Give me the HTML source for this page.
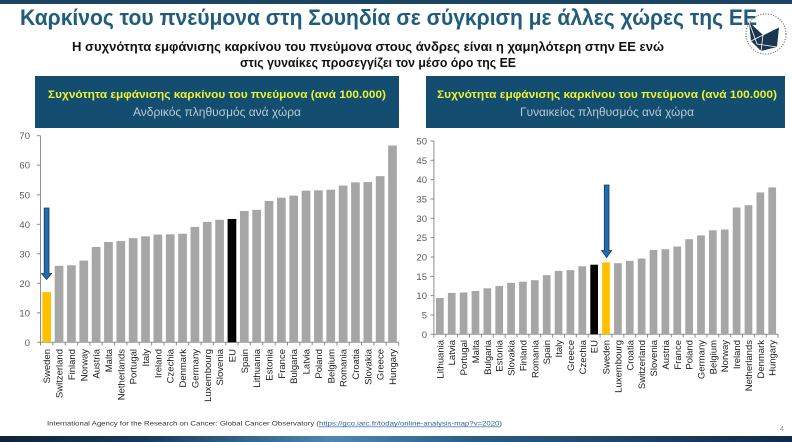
<!DOCTYPE html>
<html>
<head>
<meta charset="utf-8">
<style>
  html,body{margin:0;padding:0;background:#fff;}
  svg{display:block;}
  text{font-family:"Liberation Sans","DejaVu Sans",sans-serif;}
</style>
</head>
<body>
<svg width="792" height="442" viewBox="0 0 792 442" xmlns="http://www.w3.org/2000/svg">
  <defs>
    <linearGradient id="band" x1="0" x2="1" y1="0" y2="0">
      <stop offset="0" stop-color="#0f2338"/>
      <stop offset="0.18" stop-color="#163a5a"/>
      <stop offset="0.42" stop-color="#4d88b3"/>
      <stop offset="0.6" stop-color="#2a5c84"/>
      <stop offset="1" stop-color="#10294a"/>
    </linearGradient>
  </defs>

  <!-- top band -->
  <rect x="0" y="0" width="792" height="4" fill="#1c4563"/>

  <!-- title -->
  <text x="20" y="25" font-size="22" font-weight="bold" fill="#205c7c" textLength="737" lengthAdjust="spacingAndGlyphs">Καρκίνος του πνεύμονα στη Σουηδία σε σύγκριση με άλλες χώρες της ΕΕ</text>

  <!-- logo -->
  <circle cx="766" cy="34" r="20" fill="none" stroke="#555" stroke-width="1" stroke-dasharray="1 1.6"/>
  <polygon points="749,22 763,35 779,27 777,47 761,51 751,41" fill="#1c3550"/>
  <polyline points="749,22 757,44 777,47" fill="none" stroke="#fff" stroke-width="0.8"/>
  <polyline points="763,35 761,51" fill="none" stroke="#fff" stroke-width="0.8"/>
  <polyline points="751,41 763,35 779,27" fill="none" stroke="#fff" stroke-width="0.8"/>

  <!-- subtitle -->
  <text x="72" y="51" font-size="12.5" font-weight="bold" fill="#111" textLength="592" lengthAdjust="spacingAndGlyphs">Η συχνότητα εμφάνισης καρκίνου του πνεύμονα στους άνδρες είναι η χαμηλότερη στην ΕΕ ενώ</text>
  <text x="240" y="67" font-size="12.5" font-weight="bold" fill="#111" textLength="276" lengthAdjust="spacingAndGlyphs">στις γυναίκες προσεγγίζει τον μέσο όρο της ΕΕ</text>

  <!-- header boxes -->
  <rect x="35" y="76" width="364" height="52" fill="#134d70"/>
  <text x="48" y="98" font-size="11" font-weight="bold" fill="#e9f230" textLength="338" lengthAdjust="spacingAndGlyphs">Συχνότητα εμφάνισης καρκίνου του πνεύμονα (ανά 100.000)</text>
  <text x="217" y="116" font-size="12" fill="#b9cad6" text-anchor="middle" textLength="168" lengthAdjust="spacingAndGlyphs">Ανδρικός πληθυσμός ανά χώρα</text>

  <rect x="426" y="76" width="359" height="52" fill="#134d70"/>
  <text x="437" y="98" font-size="11" font-weight="bold" fill="#e9f230" textLength="340" lengthAdjust="spacingAndGlyphs">Συχνότητα εμφάνισης καρκίνου του πνεύμονα (ανά 100.000)</text>
  <text x="607" y="116" font-size="12" fill="#b9cad6" text-anchor="middle" textLength="174" lengthAdjust="spacingAndGlyphs">Γυναικείος πληθυσμός ανά χώρα</text>

  <!-- LEFT CHART -->
  <g font-size="9.5" fill="#595959" text-anchor="end">
    <text x="30" y="345.8">0</text>
    <text x="30" y="316.3">10</text>
    <text x="30" y="286.8">20</text>
    <text x="30" y="257.3">30</text>
    <text x="30" y="227.8">40</text>
    <text x="30" y="198.3">50</text>
    <text x="30" y="168.7">60</text>
    <text x="30" y="139.2">70</text>
  </g>
  <g stroke="#8c8c8c" stroke-width="1">
    <line x1="40.5" y1="135.7" x2="40.5" y2="342.3"/>
    <line x1="40.5" y1="342.3" x2="398.7" y2="342.3"/>
    <line x1="37" y1="342.3" x2="40.5" y2="342.3"/>
    <line x1="37" y1="312.8" x2="40.5" y2="312.8"/>
    <line x1="37" y1="283.3" x2="40.5" y2="283.3"/>
    <line x1="37" y1="253.8" x2="40.5" y2="253.8"/>
    <line x1="37" y1="224.3" x2="40.5" y2="224.3"/>
    <line x1="37" y1="194.8" x2="40.5" y2="194.8"/>
    <line x1="37" y1="165.2" x2="40.5" y2="165.2"/>
    <line x1="37" y1="135.7" x2="40.5" y2="135.7"/>
  </g>
  <g fill="#a6a6a6">
    <rect x="42.35" y="292.13" width="8.7" height="50.17" fill="#ffc000"/>
    <rect x="54.70" y="265.87" width="8.7" height="76.43"/>
    <rect x="67.05" y="265.28" width="8.7" height="77.02"/>
    <rect x="79.40" y="260.56" width="8.7" height="81.74"/>
    <rect x="91.75" y="246.98" width="8.7" height="95.32"/>
    <rect x="104.10" y="241.97" width="8.7" height="100.33"/>
    <rect x="116.45" y="241.08" width="8.7" height="101.22"/>
    <rect x="128.80" y="238.13" width="8.7" height="104.17"/>
    <rect x="141.15" y="236.36" width="8.7" height="105.94"/>
    <rect x="153.50" y="234.59" width="8.7" height="107.71"/>
    <rect x="165.85" y="234.29" width="8.7" height="108.01"/>
    <rect x="178.20" y="233.70" width="8.7" height="108.60"/>
    <rect x="190.55" y="226.92" width="8.7" height="115.38"/>
    <rect x="202.90" y="221.90" width="8.7" height="120.40"/>
    <rect x="215.25" y="219.83" width="8.7" height="122.47"/>
    <rect x="227.60" y="218.95" width="8.7" height="123.35" fill="#000"/>
    <rect x="239.95" y="210.98" width="8.7" height="131.32"/>
    <rect x="252.30" y="209.80" width="8.7" height="132.50"/>
    <rect x="264.65" y="200.95" width="8.7" height="141.35"/>
    <rect x="277.00" y="197.70" width="8.7" height="144.60"/>
    <rect x="289.35" y="195.64" width="8.7" height="146.66"/>
    <rect x="301.70" y="190.62" width="8.7" height="151.68"/>
    <rect x="314.05" y="190.32" width="8.7" height="151.98"/>
    <rect x="326.40" y="189.73" width="8.7" height="152.57"/>
    <rect x="338.75" y="185.60" width="8.7" height="156.70"/>
    <rect x="351.10" y="182.35" width="8.7" height="159.95"/>
    <rect x="363.45" y="182.06" width="8.7" height="160.24"/>
    <rect x="375.80" y="176.16" width="8.7" height="166.14"/>
    <rect x="388.15" y="145.47" width="8.7" height="196.83"/>
  </g>
  <g stroke="#8c8c8c" stroke-width="1">
    <line x1="40.5" y1="342.3" x2="40.5" y2="345.5"/><line x1="52.85" y1="342.3" x2="52.85" y2="345.5"/>
    <line x1="65.2" y1="342.3" x2="65.2" y2="345.5"/><line x1="77.55" y1="342.3" x2="77.55" y2="345.5"/>
    <line x1="89.9" y1="342.3" x2="89.9" y2="345.5"/><line x1="102.25" y1="342.3" x2="102.25" y2="345.5"/>
    <line x1="114.6" y1="342.3" x2="114.6" y2="345.5"/><line x1="126.95" y1="342.3" x2="126.95" y2="345.5"/>
    <line x1="139.3" y1="342.3" x2="139.3" y2="345.5"/><line x1="151.65" y1="342.3" x2="151.65" y2="345.5"/>
    <line x1="164" y1="342.3" x2="164" y2="345.5"/><line x1="176.35" y1="342.3" x2="176.35" y2="345.5"/>
    <line x1="188.7" y1="342.3" x2="188.7" y2="345.5"/><line x1="201.05" y1="342.3" x2="201.05" y2="345.5"/>
    <line x1="213.4" y1="342.3" x2="213.4" y2="345.5"/><line x1="225.75" y1="342.3" x2="225.75" y2="345.5"/>
    <line x1="238.1" y1="342.3" x2="238.1" y2="345.5"/><line x1="250.45" y1="342.3" x2="250.45" y2="345.5"/>
    <line x1="262.8" y1="342.3" x2="262.8" y2="345.5"/><line x1="275.15" y1="342.3" x2="275.15" y2="345.5"/>
    <line x1="287.5" y1="342.3" x2="287.5" y2="345.5"/><line x1="299.85" y1="342.3" x2="299.85" y2="345.5"/>
    <line x1="312.2" y1="342.3" x2="312.2" y2="345.5"/><line x1="324.55" y1="342.3" x2="324.55" y2="345.5"/>
    <line x1="336.9" y1="342.3" x2="336.9" y2="345.5"/><line x1="349.25" y1="342.3" x2="349.25" y2="345.5"/>
    <line x1="361.6" y1="342.3" x2="361.6" y2="345.5"/><line x1="373.95" y1="342.3" x2="373.95" y2="345.5"/>
    <line x1="386.3" y1="342.3" x2="386.3" y2="345.5"/><line x1="398.65" y1="342.3" x2="398.65" y2="345.5"/>
  </g>
  <g font-size="9.5" fill="#1a1a1a" text-anchor="end">
    <text transform="translate(50.2,349) rotate(-90)">Sweden</text>
    <text transform="translate(62.55,349) rotate(-90)">Switzerland</text>
    <text transform="translate(74.9,349) rotate(-90)">Finland</text>
    <text transform="translate(87.25,349) rotate(-90)">Norway</text>
    <text transform="translate(99.6,349) rotate(-90)">Austria</text>
    <text transform="translate(111.95,349) rotate(-90)">Malta</text>
    <text transform="translate(124.3,349) rotate(-90)">Netherlands</text>
    <text transform="translate(136.65,349) rotate(-90)">Portugal</text>
    <text transform="translate(149,349) rotate(-90)">Italy</text>
    <text transform="translate(161.35,349) rotate(-90)">Ireland</text>
    <text transform="translate(173.7,349) rotate(-90)">Czechia</text>
    <text transform="translate(186.05,349) rotate(-90)">Denmark</text>
    <text transform="translate(198.4,349) rotate(-90)">Germany</text>
    <text transform="translate(210.75,349) rotate(-90)">Luxembourg</text>
    <text transform="translate(223.1,349) rotate(-90)">Slovenia</text>
    <text transform="translate(235.45,349) rotate(-90)">EU</text>
    <text transform="translate(247.8,349) rotate(-90)">Spain</text>
    <text transform="translate(260.15,349) rotate(-90)">Lithuania</text>
    <text transform="translate(272.5,349) rotate(-90)">Estonia</text>
    <text transform="translate(284.85,349) rotate(-90)">France</text>
    <text transform="translate(297.2,349) rotate(-90)">Bulgaria</text>
    <text transform="translate(309.55,349) rotate(-90)">Latvia</text>
    <text transform="translate(321.9,349) rotate(-90)">Poland</text>
    <text transform="translate(334.25,349) rotate(-90)">Belgium</text>
    <text transform="translate(346.6,349) rotate(-90)">Romania</text>
    <text transform="translate(358.95,349) rotate(-90)">Croatia</text>
    <text transform="translate(371.3,349) rotate(-90)">Slovakia</text>
    <text transform="translate(383.65,349) rotate(-90)">Greece</text>
    <text transform="translate(396,349) rotate(-90)">Hungary</text>
  </g>
  <!-- left arrow -->
  <polygon points="44.2,208 49,208 49,273.5 51.6,273.5 46.6,279.5 41.6,273.5 44.2,273.5" fill="#1f6fb0" stroke="#173a58" stroke-width="0.8"/>

  <!-- RIGHT CHART -->
  <g font-size="9.5" fill="#595959" text-anchor="end">
    <text x="427" y="337.8">0</text>
    <text x="427" y="318.5">5</text>
    <text x="427" y="299.1">10</text>
    <text x="427" y="279.8">15</text>
    <text x="427" y="260.5">20</text>
    <text x="427" y="241.1">25</text>
    <text x="427" y="221.8">30</text>
    <text x="427" y="202.5">35</text>
    <text x="427" y="183.2">40</text>
    <text x="427" y="163.8">45</text>
    <text x="427" y="144.5">50</text>
  </g>
  <g stroke="#8c8c8c" stroke-width="1">
    <line x1="433.9" y1="141" x2="433.9" y2="334.3"/>
    <line x1="433.9" y1="334.3" x2="778.2" y2="334.3"/>
    <line x1="430.5" y1="334.3" x2="433.9" y2="334.3"/>
    <line x1="430.5" y1="315.0" x2="433.9" y2="315.0"/>
    <line x1="430.5" y1="295.6" x2="433.9" y2="295.6"/>
    <line x1="430.5" y1="276.3" x2="433.9" y2="276.3"/>
    <line x1="430.5" y1="257.0" x2="433.9" y2="257.0"/>
    <line x1="430.5" y1="237.6" x2="433.9" y2="237.6"/>
    <line x1="430.5" y1="218.3" x2="433.9" y2="218.3"/>
    <line x1="430.5" y1="199.0" x2="433.9" y2="199.0"/>
    <line x1="430.5" y1="179.7" x2="433.9" y2="179.7"/>
    <line x1="430.5" y1="160.3" x2="433.9" y2="160.3"/>
    <line x1="430.5" y1="141.0" x2="433.9" y2="141.0"/>
  </g>
  <g fill="#a6a6a6">
    <rect x="436.00" y="297.96" width="7.7" height="36.34"/>
    <rect x="447.87" y="292.93" width="7.7" height="41.37"/>
    <rect x="459.74" y="292.55" width="7.7" height="41.75"/>
    <rect x="471.61" y="291.00" width="7.7" height="43.30"/>
    <rect x="483.48" y="288.29" width="7.7" height="46.01"/>
    <rect x="495.35" y="285.97" width="7.7" height="48.33"/>
    <rect x="507.22" y="282.88" width="7.7" height="51.42"/>
    <rect x="519.09" y="281.72" width="7.7" height="52.58"/>
    <rect x="530.96" y="280.18" width="7.7" height="54.12"/>
    <rect x="542.83" y="275.15" width="7.7" height="59.15"/>
    <rect x="554.70" y="270.90" width="7.7" height="63.40"/>
    <rect x="566.57" y="270.12" width="7.7" height="64.18"/>
    <rect x="578.44" y="266.26" width="7.7" height="68.04"/>
    <rect x="590.31" y="264.71" width="7.7" height="69.59" fill="#000"/>
    <rect x="602.18" y="262.39" width="7.7" height="71.91" fill="#ffc000"/>
    <rect x="614.05" y="263.17" width="7.7" height="71.13"/>
    <rect x="625.92" y="260.85" width="7.7" height="73.45"/>
    <rect x="637.79" y="258.53" width="7.7" height="75.77"/>
    <rect x="649.66" y="250.02" width="7.7" height="84.28"/>
    <rect x="661.53" y="249.25" width="7.7" height="85.05"/>
    <rect x="673.40" y="246.54" width="7.7" height="87.76"/>
    <rect x="685.27" y="239.20" width="7.7" height="95.10"/>
    <rect x="697.14" y="235.33" width="7.7" height="98.97"/>
    <rect x="709.01" y="230.30" width="7.7" height="104.00"/>
    <rect x="720.88" y="229.53" width="7.7" height="104.77"/>
    <rect x="732.75" y="207.50" width="7.7" height="126.80"/>
    <rect x="744.62" y="205.18" width="7.7" height="129.12"/>
    <rect x="756.49" y="192.42" width="7.7" height="141.88"/>
    <rect x="768.36" y="187.39" width="7.7" height="146.91"/>
  </g>
  <g stroke="#8c8c8c" stroke-width="1">
    <line x1="433.9" y1="334.3" x2="433.9" y2="337.5"/><line x1="445.77" y1="334.3" x2="445.77" y2="337.5"/>
    <line x1="457.64" y1="334.3" x2="457.64" y2="337.5"/><line x1="469.51" y1="334.3" x2="469.51" y2="337.5"/>
    <line x1="481.38" y1="334.3" x2="481.38" y2="337.5"/><line x1="493.25" y1="334.3" x2="493.25" y2="337.5"/>
    <line x1="505.12" y1="334.3" x2="505.12" y2="337.5"/><line x1="516.99" y1="334.3" x2="516.99" y2="337.5"/>
    <line x1="528.86" y1="334.3" x2="528.86" y2="337.5"/><line x1="540.73" y1="334.3" x2="540.73" y2="337.5"/>
    <line x1="552.6" y1="334.3" x2="552.6" y2="337.5"/><line x1="564.47" y1="334.3" x2="564.47" y2="337.5"/>
    <line x1="576.34" y1="334.3" x2="576.34" y2="337.5"/><line x1="588.21" y1="334.3" x2="588.21" y2="337.5"/>
    <line x1="600.08" y1="334.3" x2="600.08" y2="337.5"/><line x1="611.95" y1="334.3" x2="611.95" y2="337.5"/>
    <line x1="623.82" y1="334.3" x2="623.82" y2="337.5"/><line x1="635.69" y1="334.3" x2="635.69" y2="337.5"/>
    <line x1="647.56" y1="334.3" x2="647.56" y2="337.5"/><line x1="659.43" y1="334.3" x2="659.43" y2="337.5"/>
    <line x1="671.3" y1="334.3" x2="671.3" y2="337.5"/><line x1="683.17" y1="334.3" x2="683.17" y2="337.5"/>
    <line x1="695.04" y1="334.3" x2="695.04" y2="337.5"/><line x1="706.91" y1="334.3" x2="706.91" y2="337.5"/>
    <line x1="718.78" y1="334.3" x2="718.78" y2="337.5"/><line x1="730.65" y1="334.3" x2="730.65" y2="337.5"/>
    <line x1="742.52" y1="334.3" x2="742.52" y2="337.5"/><line x1="754.39" y1="334.3" x2="754.39" y2="337.5"/>
    <line x1="766.26" y1="334.3" x2="766.26" y2="337.5"/><line x1="778.13" y1="334.3" x2="778.13" y2="337.5"/>
  </g>
  <g font-size="9.5" fill="#1a1a1a" text-anchor="end">
    <text transform="translate(443.35,340) rotate(-90)">Lithuania</text>
    <text transform="translate(455.22,340) rotate(-90)">Latvia</text>
    <text transform="translate(467.09,340) rotate(-90)">Portugal</text>
    <text transform="translate(478.96,340) rotate(-90)">Malta</text>
    <text transform="translate(490.83,340) rotate(-90)">Bulgaria</text>
    <text transform="translate(502.7,340) rotate(-90)">Estonia</text>
    <text transform="translate(514.57,340) rotate(-90)">Slovakia</text>
    <text transform="translate(526.44,340) rotate(-90)">Finland</text>
    <text transform="translate(538.31,340) rotate(-90)">Romania</text>
    <text transform="translate(550.18,340) rotate(-90)">Spain</text>
    <text transform="translate(562.05,340) rotate(-90)">Italy</text>
    <text transform="translate(573.92,340) rotate(-90)">Greece</text>
    <text transform="translate(585.79,340) rotate(-90)">Czechia</text>
    <text transform="translate(597.66,340) rotate(-90)">EU</text>
    <text transform="translate(609.53,340) rotate(-90)">Sweden</text>
    <text transform="translate(621.4,340) rotate(-90)">Luxembourg</text>
    <text transform="translate(633.27,340) rotate(-90)">Croatia</text>
    <text transform="translate(645.14,340) rotate(-90)">Switzerland</text>
    <text transform="translate(657.01,340) rotate(-90)">Slovenia</text>
    <text transform="translate(668.88,340) rotate(-90)">Austria</text>
    <text transform="translate(680.75,340) rotate(-90)">France</text>
    <text transform="translate(692.62,340) rotate(-90)">Poland</text>
    <text transform="translate(704.49,340) rotate(-90)">Germany</text>
    <text transform="translate(716.36,340) rotate(-90)">Belgium</text>
    <text transform="translate(728.23,340) rotate(-90)">Norway</text>
    <text transform="translate(740.1,340) rotate(-90)">Ireland</text>
    <text transform="translate(751.97,340) rotate(-90)">Netherlands</text>
    <text transform="translate(763.84,340) rotate(-90)">Denmark</text>
    <text transform="translate(775.71,340) rotate(-90)">Hungary</text>
  </g>
  <!-- right arrow -->
  <polygon points="604.3,185 609,185 609,250.5 611.6,250.5 606.6,257.5 601.6,250.5 604.3,250.5" fill="#1f6fb0" stroke="#173a58" stroke-width="0.8"/>

  <!-- footer -->
  <text x="47" y="425.5" font-size="6.6" fill="#333" textLength="455" lengthAdjust="spacingAndGlyphs">International Agency for the Research on Cancer: Global Cancer Observatory (<tspan fill="#2f5f9f" text-decoration="underline">https://gco.iarc.fr/today/online-analysis-map?v=2020</tspan>)</text>
  <text x="780" y="431" font-size="7" fill="#8c8c8c">4</text>

  <!-- bottom band -->
  <rect x="0" y="436" width="792" height="6" fill="url(#band)"/>
</svg>
</body>
</html>
